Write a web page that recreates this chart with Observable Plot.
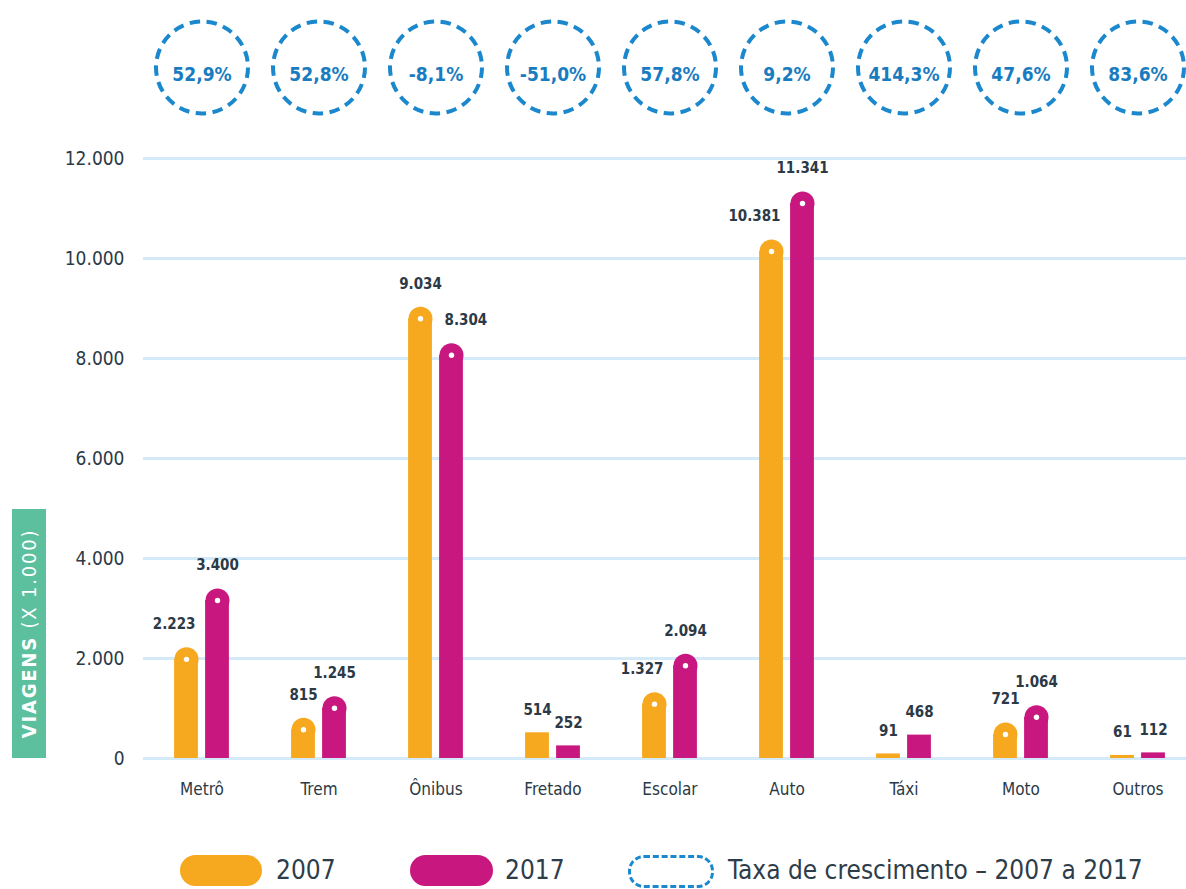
<!DOCTYPE html>
<html><head><meta charset="utf-8">
<script src="https://cdn.jsdelivr.net/npm/d3@7"></script>
<script src="https://cdn.jsdelivr.net/npm/@observablehq/plot@0.6"></script>
<style>
body{margin:0;background:#fff;font-family:"DejaVu Sans Condensed","DejaVu Sans",sans-serif;font-stretch:condensed;}
#wrap{position:relative;width:1186px;height:889px;overflow:hidden;}
#chart{position:absolute;left:0;top:0;}
.legend{position:absolute;left:0;top:852px;width:1186px;height:37px;color:#2d3d4a;font-size:26px;}
.legend .sw{position:absolute;top:3px;height:31px;border-radius:16px;}
.legend .lab{position:absolute;top:0;line-height:37px;white-space:nowrap;}
</style></head><body>
<div id="wrap"><div id="chart"></div>
<div class="legend" id="legend"></div></div>
<script>
const categories = ["Metrô","Trem","Ônibus","Fretado","Escolar","Auto","Táxi","Moto","Outros"];
const years = ["2007","2017"];
const values2007 = [2223,815,9034,514,1327,10381,91,721,61];
const values2017 = [3400,1245,8304,252,2094,11341,468,1064,112];
const growth = [52.9,52.8,-8.1,-51.0,57.8,9.2,414.3,47.6,83.6];
const yTicks = [0,2000,4000,6000,8000,10000,12000];
const yearColors = ["#f6a91f","#c8177f"];
const growthColor = "#1b88cd";
const textColor = "#2b3a46";

const locale = d3.formatLocale({decimal:",",thousands:".",grouping:[3],currency:["R$",""],minus:"-"});
const fmtInt = locale.format(",d");
const fmtPct = v => locale.format(".1f")(v) + "%";

const rows = [];
categories.forEach((c,i)=>{
  const a = values2007[i], b = values2017[i];
  rows.push({cat:c, year:"2007", value:a, other:b});
  rows.push({cat:c, year:"2017", value:b, other:a});
});

const W = 1186, H = 845, mTop = 158, mBottom = 87, mLeft = 143;
const xRange = [142.4, 1197.2];
const step = (xRange[1]-xRange[0]) / categories.length;
const barW = 24, half = 15.5, capR = 12;
const inset = (step - barW) / 2;
const capMin = 600;

const marks = [
  Plot.ruleY(yTicks, {stroke:"#d4eaf8", strokeWidth:3}),
  Plot.axisY({ticks:yTicks, tickSize:0, tickPadding:19, tickFormat:fmtInt, fontSize:19, color:textColor, label:null}),
  Plot.axisX({tickSize:0, tickPadding:24, fontSize:17, color:textColor, label:null}),
];
years.forEach((yr, k) => {
  const dx = k === 0 ? -half : half;
  const col = yearColors[k];
  const data = rows.filter(r => r.year === yr);
  const capped = data.filter(r => r.value >= capMin);
  const flat = data.filter(r => r.value < capMin);
  marks.push(Plot.barY(flat, {x:"cat", y:"value", fill:col, insetLeft:inset, insetRight:inset, dx}));
  marks.push(Plot.barY(capped, {x:"cat", y:"value", fill:col, insetLeft:inset, insetRight:inset, insetTop:capR, dx}));
  marks.push(Plot.dot(capped, {x:"cat", y:"value", r:capR, fill:col, dx, dy:capR}));
  marks.push(Plot.dot(capped, {x:"cat", y:"value", r:2.7, fill:"white", dx, dy:capR}));
  // value labels: shifted outward when value >= 1000 and the bar is shorter than its partner
  const isShifted = r => r.value >= 1000 && r.value < r.other;
  const shifted = data.filter(isShifted);
  const normal = data.filter(r => !isShifted(r));
  const lab = {x:"cat", y:"value", text:d=>fmtInt(d.value), fontSize:15, fontWeight:"bold", fill:textColor, dy:-23};
  marks.push(Plot.text(normal, {...lab, dx}));
  marks.push(Plot.text(shifted, {...lab, dx: k===0 ? -6.5 : 8.5, textAnchor: k===0 ? "end" : "start"}));
});
marks.push(Plot.dot(categories, {x:d=>d, frameAnchor:"top", dy:-91, r:46, fill:"none", stroke:growthColor, strokeWidth:4, strokeDasharray:"10.5,6.5"}));
marks.push(Plot.text(categories, {x:d=>d, text:(d,i)=>fmtPct(growth[i]), frameAnchor:"top", dy:-91, fontSize:19, fontWeight:"bold", fill:"#1a7cc0"}));

const plot = Plot.plot({
  width: W, height: H,
  marginTop: mTop, marginBottom: mBottom, marginLeft: mLeft, marginRight: 0,
  style: {fontFamily:"'DejaVu Sans Condensed','DejaVu Sans',sans-serif", background:"white", color:textColor},
  x: {domain: categories, range: xRange, padding: 0, axis: null},
  y: {domain: [0, 12000], axis: null},
  marks
});
document.getElementById("chart").appendChild(plot);

// y-axis title box
const svg = d3.select(plot);
const y0 = plot.scale("y").apply(0);
const boxH = 249, boxX = 12, boxW = 34;
svg.append("rect").attr("x", boxX).attr("y", y0 - boxH).attr("width", boxW).attr("height", boxH).attr("fill", "#5cbf9d");
const t = svg.append("text")
  .attr("transform", `translate(${boxX + boxW/2 + 7},${y0 - boxH/2}) rotate(-90)`)
  .attr("text-anchor", "middle").attr("fill", "white")
  .attr("font-size", 20).attr("letter-spacing", 1.8)
  .attr("font-family", "'DejaVu Sans','DejaVu Sans Condensed',sans-serif");
t.append("tspan").attr("font-weight", "bold").text("VIAGENS");
t.append("tspan").attr("font-weight", "normal").text(" (X 1.000)");

// legend
const leg = document.getElementById("legend");
leg.innerHTML = `
  <div class="sw" style="left:180px;width:82px;background:${yearColors[0]}"></div>
  <div class="lab" style="left:276px">${years[0]}</div>
  <div class="sw" style="left:410px;width:83px;background:${yearColors[1]}"></div>
  <div class="lab" style="left:505px">${years[1]}</div>
  <div class="sw" style="left:628px;width:80px;height:27px;border:3px dashed ${growthColor};background:none"></div>
  <div class="lab" style="left:728px">Taxa de crescimento – 2007 a 2017</div>`;
</script></body></html>
